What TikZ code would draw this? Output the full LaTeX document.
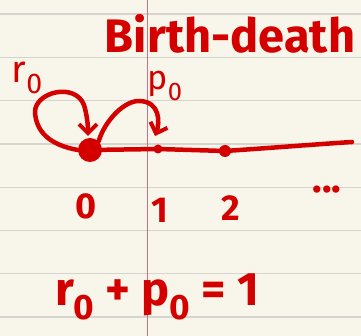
\documentclass[tikz,border=0pt]{standalone}
\usepackage{fontspec}
\setmainfont{Fira Sans}
\usetikzlibrary{arrows.meta}
\definecolor{paper}{HTML}{F8F5EA}
\definecolor{rule}{HTML}{D6D4CF}
\definecolor{margin}{HTML}{D07080}
\definecolor{ink}{HTML}{D40000}
\newcommand\lowsub[1]{\raisebox{-0.3em}{\scalebox{0.75}{#1}}}
\tikzset{
  inkline/.style={draw=ink, line width=4.5pt, line cap=round, line join=round},
  tip/.style={-{Straight Barb[length=9pt,width=18pt,line width=4pt]}},
  hand/.style={text=ink, inner sep=0pt, font=\fontsize{#1}{#1}\selectfont},
  handb/.style={text=ink, inner sep=0pt, font=\fontsize{#1}{#1}\selectfont\bfseries},
  dotnode/.style={circle, fill=ink, inner sep=0pt, minimum size=#1},
}
\begin{document}
\begin{tikzpicture}[x=1pt,y=-1pt]
\fill[paper] (0,0) rectangle (361,336);
\useasboundingbox (0,0) rectangle (361,336);
% ruled lines
\foreach \yy in {14,57.3,100.6,143.9,187.2,230.5,273.8,317.1}
  \draw[rule, line width=1.3pt] (0,\yy) -- (361,\yy);
\draw[margin, line width=1pt] (147,0) -- (147,336);
% title
\node[handb=47] (title) at (230,34) {Birth-death};
% nodes on line
\node[dotnode=24pt] (n0) at (90,150) {};
\node[dotnode=9pt] (n1) at (158,149) {};
\node[dotnode=12pt] (n2) at (225,151) {};
\coordinate (lineend) at (352,142);
\draw[inkline] (n0.center) -- (n1.center) -- (n2.center) .. controls (270,148) and (320,144) .. (lineend);
% self loop
\draw[inkline, tip] (n0.west) .. controls (50,145) and (36,132) .. (35,112)
  .. controls (35,92) and (75,82) .. (84,105) .. controls (87,115) and (88,125) .. (88,136);
% arc 0 -> 1
\draw[inkline, tip] (n0.north east) .. controls (105,120) and (125,100) .. (140,101)
  .. controls (160,102) and (160,122) .. (155,136);
% labels
\node[hand=38] (r0) at (27,78) {r\lowsub{0}};
\node[hand=34] (p0) at (165,86) {p\lowsub{0}};
\node[handb=36] (l0) at (86,206) {0};
\node[handb=36] (l1) at (160,210) {1};
\node[handb=36] (l2) at (231,208) {2};
\node[handb=40] (dots) at (327,190) {...};
% equation
\node[handb=47] (eq) at (157,297) {r\lowsub{0} + p\lowsub{0} = 1};
\end{tikzpicture}
\end{document}
